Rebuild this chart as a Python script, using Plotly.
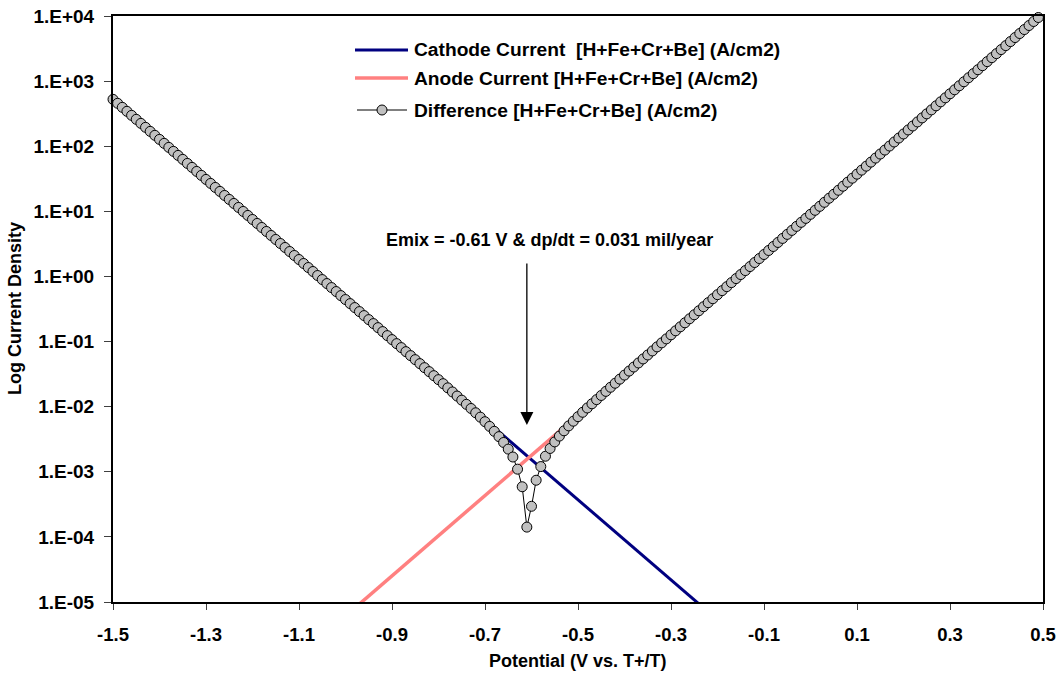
import numpy as np
import plotly.graph_objects as go

# Potential sweep (V vs. T+/T), 10 mV steps
potential = np.round(np.arange(-1.50, 0.5001, 0.01), 2)

# log10 of |cathode - anode| current density (A/cm2) at each potential step
log_difference = [
    2.720, 2.659, 2.597, 2.536, 2.474, 2.413, 2.351, 2.290, 2.228, 2.167,
    2.105, 2.044, 1.982, 1.921, 1.859, 1.798, 1.736, 1.675, 1.613, 1.552,
    1.490, 1.429, 1.367, 1.306, 1.244, 1.183, 1.121, 1.060, 0.998, 0.937,
    0.875, 0.814, 0.752, 0.691, 0.629, 0.568, 0.506, 0.445, 0.383, 0.322,
    0.260, 0.199, 0.137, 0.076, 0.014, -0.048, -0.109, -0.171, -0.232, -0.294,
    -0.355, -0.417, -0.478, -0.540, -0.601, -0.663, -0.724, -0.786, -0.847, -0.909,
    -0.970, -1.032, -1.093, -1.155, -1.216, -1.278, -1.339, -1.401, -1.462, -1.524,
    -1.585, -1.647, -1.711, -1.774, -1.837, -1.900, -1.964, -2.028, -2.094, -2.161,
    -2.231, -2.303, -2.379, -2.460, -2.550, -2.652, -2.773, -2.960, -3.230, -3.850,
    -3.530, -3.130, -2.920, -2.761, -2.642, -2.541, -2.452, -2.371, -2.295, -2.223,
    -2.154, -2.086, -2.020, -1.956, -1.892, -1.828, -1.765, -1.702, -1.640, -1.577,
    -1.515, -1.453, -1.391, -1.329, -1.267, -1.206, -1.144, -1.082, -1.020, -0.959,
    -0.897, -0.835, -0.774, -0.712, -0.650, -0.589, -0.527, -0.465, -0.403, -0.342,
    -0.280, -0.218, -0.157, -0.095, -0.033, 0.029, 0.090, 0.152, 0.214, 0.275,
    0.337, 0.399, 0.460, 0.522, 0.584, 0.646, 0.707, 0.769, 0.831, 0.892,
    0.954, 1.016, 1.077, 1.139, 1.201, 1.262, 1.324, 1.386, 1.448, 1.509,
    1.571, 1.633, 1.694, 1.756, 1.818, 1.880, 1.941, 2.003, 2.065, 2.126,
    2.188, 2.250, 2.311, 2.373, 2.435, 2.497, 2.558, 2.620, 2.682, 2.743,
    2.805, 2.867, 2.928, 2.990, 3.052, 3.114, 3.175, 3.237, 3.299, 3.360,
    3.422, 3.484, 3.545, 3.607, 3.669, 3.731, 3.792, 3.854, 3.916, 3.977,
    4.039,
]

# Tafel lines (straight on the log axis): end points of each branch
cathode_potential = [-1.50, -0.20]
cathode_log_current = [2.720, -5.275]
anode_potential = [-1.00, 0.50]
anode_log_current = [-5.216, 4.039]

# Mixed potential marked on the chart
emix_potential = -0.61
emix_arrow_tip_log = -2.28
emix_label = "Emix = -0.61 V & dp/dt = 0.031 mil/year"

x_ticks = [-1.5, -1.3, -1.1, -0.9, -0.7, -0.5, -0.3, -0.1, 0.1, 0.3, 0.5]
x_tick_text = ["-1.5", "-1.3", "-1.1", "-0.9", "-0.7", "-0.5", "-0.3", "-0.1", "0.1", "0.3", "0.5"]
y_ticks = [1e-5, 1e-4, 1e-3, 1e-2, 1e-1, 1e0, 1e1, 1e2, 1e3, 1e4]
y_tick_text = ["1.E-05", "1.E-04", "1.E-03", "1.E-02", "1.E-01",
               "1.E+00", "1.E+01", "1.E+02", "1.E+03", "1.E+04"]

legend_names = [
    "Cathode Current  [H+Fe+Cr+Be] (A/cm2)",
    "Anode Current [H+Fe+Cr+Be] (A/cm2)",
    "Difference [H+Fe+Cr+Be] (A/cm2)",
]

NAVY = "#000080"
SALMON = "#FF8080"
MARKER_FILL = "#C0C0C0"
FONT = "Liberation Sans, Arial, sans-serif"

W, H = 1061, 675
L, R, T, B = 113, 18, 16, 73
PW, PH = W - L - R, H - T - B


def px(xp):
    return (xp - L) / PW


def py(yp):
    return (H - B - yp) / PH


def bold(size):
    return dict(family=FONT, size=size, color="black", weight="bold")


fig = go.Figure()

fig.add_trace(go.Scatter(
    x=cathode_potential, y=np.power(10.0, cathode_log_current),
    mode="lines", line=dict(color=NAVY, width=3),
    name=legend_names[0], showlegend=False,
))
fig.add_trace(go.Scatter(
    x=anode_potential, y=np.power(10.0, anode_log_current),
    mode="lines", line=dict(color=SALMON, width=3.5),
    name=legend_names[1], showlegend=False,
))
fig.add_trace(go.Scatter(
    x=potential, y=np.power(10.0, log_difference),
    mode="lines+markers",
    line=dict(color="black", width=1),
    marker=dict(size=10, color=MARKER_FILL, line=dict(color="black", width=1)),
    name=legend_names[2], showlegend=False, cliponaxis=False,
))

fig.update_xaxes(
    range=[-1.5, 0.5], tickvals=x_ticks, ticktext=x_tick_text,
    showgrid=False, zeroline=False,
    showline=True, linecolor="black", linewidth=2, mirror=True,
    ticks="outside", ticklen=6, tickwidth=1, tickcolor="#404040",
    tickfont=bold(18.5), ticklabelstandoff=9,
)
fig.update_yaxes(
    type="log", range=[-5, 4], tickvals=y_ticks, ticktext=y_tick_text,
    showgrid=False, zeroline=False,
    showline=True, linecolor="black", linewidth=2, mirror=True,
    ticks="outside", ticklen=7, tickwidth=1, tickcolor="#404040",
    tickfont=bold(19), ticklabelstandoff=6,
)

annotations = [
    # axis titles
    dict(text="Log Current Density", xref="paper", yref="paper",
         x=px(15), y=0.5, textangle=-90, showarrow=False,
         xanchor="center", yanchor="middle", font=bold(18)),
    dict(text="Potential (V vs. T+/T)", xref="paper", yref="paper",
         x=0.5, y=py(661), showarrow=False,
         xanchor="center", yanchor="middle", font=bold(18)),
    # Emix label and arrow
    dict(text=emix_label, x=-0.5613, y=0.559, xref="x", yref="y",
         showarrow=False, xanchor="center", yanchor="middle", font=bold(18)),
    dict(text="", x=emix_potential, y=emix_arrow_tip_log, xref="x", yref="y",
         showarrow=True, ax=0, ay=-163, arrowhead=2, arrowsize=2,
         arrowwidth=1.3, arrowcolor="black"),
]

# legend drawn as line samples plus labels
legend_rows = [50, 78, 110]
shapes = [
    dict(type="line", xref="paper", yref="paper",
         x0=px(355), x1=px(408), y0=py(legend_rows[0]), y1=py(legend_rows[0]),
         line=dict(color=NAVY, width=3)),
    dict(type="line", xref="paper", yref="paper",
         x0=px(355), x1=px(408), y0=py(legend_rows[1]), y1=py(legend_rows[1]),
         line=dict(color=SALMON, width=3.5)),
    dict(type="line", xref="paper", yref="paper",
         x0=px(357), x1=px(407), y0=py(legend_rows[2]), y1=py(legend_rows[2]),
         line=dict(color="black", width=1)),
    dict(type="circle", xref="paper", yref="paper",
         x0=px(382 - 5), x1=px(382 + 5), y0=py(legend_rows[2] + 5), y1=py(legend_rows[2] - 5),
         fillcolor=MARKER_FILL, line=dict(color="black", width=1)),
]
for name, row in zip(legend_names, legend_rows):
    annotations.append(dict(
        text=name, xref="paper", yref="paper", x=px(412), y=py(row),
        xanchor="left", yanchor="middle", showarrow=False, font=bold(19.2),
    ))

fig.update_layout(
    width=W, height=H,
    margin=dict(l=L, r=R, t=T, b=B, autoexpand=False),
    paper_bgcolor="white", plot_bgcolor="white",
    showlegend=False,
    annotations=annotations, shapes=shapes,
)

fig.write_html("out.html")
